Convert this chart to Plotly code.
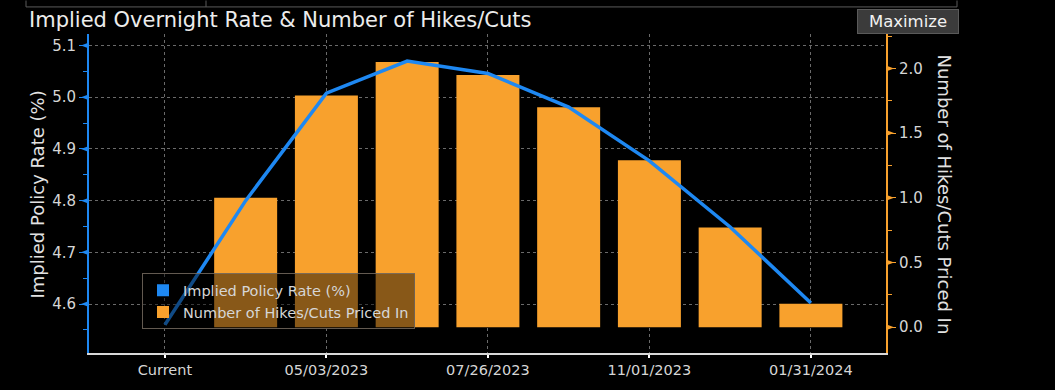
import plotly.graph_objects as go

# ---- data ----
dates = ['Current', '03/22/2023', '05/03/2023', '06/14/2023', '07/26/2023',
         '09/20/2023', '11/01/2023', '12/13/2023', '01/31/2024']
implied_rate = [4.56, 4.80, 5.008, 5.070, 5.046, 4.981, 4.877, 4.749, 4.602]
hikes_priced = [0.0, 1.0, 1.79, 2.05, 1.95, 1.70, 1.29, 0.77, 0.18]
x_tick_labels = ['Current', '05/03/2023', '07/26/2023', '11/01/2023', '01/31/2024']
rate_ticks = [4.6, 4.7, 4.8, 4.9, 5.0, 5.1]
hike_ticks = [0.0, 0.5, 1.0, 1.5, 2.0]

BLUE = '#1e88f2'
ORANGE = '#f8a12d'
TXT = '#d6d6d6'
FONT = 'DejaVu Sans'

W, H = 1055, 390
L, R, T, B = 89, 169, 34, 32
PW, PH = W - L - R, H - T - B


def px(x):
    return (x - L) / PW


def py(y):
    return (H - B - y) / PH


fig = go.Figure()

# bars on the base axis (right side)
fig.add_trace(go.Bar(
    x=dates, y=hikes_priced, yaxis='y', marker=dict(color=ORANGE, line=dict(width=0)),
    width=0.78, showlegend=False, name='Number of Hikes/Cuts Priced In'))

# line on the overlaying axis (left side)
fig.add_trace(go.Scatter(
    x=dates, y=implied_rate, yaxis='y2', mode='lines',
    line=dict(color=BLUE, width=3.5), showlegend=False,
    name='Implied Policy Rate (%)'))

# legend entries (square swatches)
fig.add_trace(go.Scatter(x=[None], y=[None], mode='markers', name='Implied Policy Rate (%)',
                         marker=dict(symbol='square', size=14, color=BLUE)))
fig.add_trace(go.Scatter(x=[None], y=[None], mode='markers', name='Number of Hikes/Cuts Priced In',
                         marker=dict(symbol='square', size=14, color=ORANGE)))

fig.update_layout(
    width=W, height=H,
    margin=dict(l=L, r=R, t=T, b=B, pad=0),
    paper_bgcolor='black', plot_bgcolor='black',
    font=dict(family=FONT, color=TXT, size=15),
    bargap=0.2,
    xaxis=dict(
        type='category', categoryorder='array', categoryarray=dates,
        range=[-0.94, 8.93],
        tickmode='array', tickvals=x_tick_labels, ticktext=x_tick_labels,
        showgrid=True, gridcolor='#6a6a6a', griddash='dot', gridwidth=1,
        showline=True, linecolor='#d8d8d8', linewidth=2,
        ticks='outside', ticklen=3, tickcolor='#ffffff', tickwidth=2,
        tickfont=dict(size=14.5, color=TXT), zeroline=False,
    ),
    yaxis=dict(
        side='right', range=[-0.2, 2.266],
        tickvals=hike_ticks, ticktext=['%.1f' % v for v in hike_ticks],
        showgrid=False, zeroline=False,
        showline=True, linecolor=ORANGE, linewidth=2,
        ticks='outside', ticklen=8, tickcolor=ORANGE, tickwidth=1,
        minor=dict(ticks='outside', ticklen=4, tickcolor=ORANGE, dtick=0.25, tick0=0, showgrid=False),
        tickfont=dict(size=15, color=TXT),
    ),
    yaxis2=dict(
        overlaying='y', side='left', anchor='x', range=[4.5053, 5.1223],
        tickvals=rate_ticks, ticktext=['%.1f' % v for v in rate_ticks],
        showgrid=True, gridcolor='#6a6a6a', griddash='dot', gridwidth=1,
        zeroline=False,
        showline=True, linecolor=BLUE, linewidth=2,
        ticks='outside', ticklen=8, tickcolor=BLUE, tickwidth=1,
        minor=dict(ticks='outside', ticklen=4, tickcolor=BLUE, dtick=0.05, tick0=4.6, showgrid=False),
        tickfont=dict(size=15, color=TXT),
    ),
    legend=dict(
        x=px(142), y=py(277), xanchor='left', yanchor='top',
        bgcolor='rgba(0,0,0,0.45)', bordercolor='rgba(110,100,90,0.9)', borderwidth=1,
        font=dict(size=14.5, color=TXT, family=FONT),
        tracegroupgap=0, itemsizing='constant',
    ),
    title=dict(text='Implied Overnight Rate & Number of Hikes/Cuts',
               xref='container', yref='container', x=29 / W, y=1 - 20 / H,
               xanchor='left', yanchor='middle',
               font=dict(size=21, color='#ececec', family=FONT)),
)

# axis titles
fig.add_annotation(text='Implied Policy Rate (%)', xref='paper', yref='paper',
                   x=px(37), y=py(197), textangle=-90, showarrow=False,
                   xanchor='center', yanchor='middle',
                   font=dict(size=18, color='#e2e2e2', family=FONT))
fig.add_annotation(text='Number of Hikes/Cuts Priced In', xref='paper', yref='paper',
                   x=px(945), y=py(197), textangle=90, showarrow=False,
                   xanchor='center', yanchor='middle',
                   font=dict(size=18, color='#e2e2e2', family=FONT))

# Maximize button
fig.add_annotation(text='Maximize', xref='paper', yref='paper',
                   x=px(907.5), y=py(21), showarrow=False, xanchor='center', yanchor='middle',
                   bgcolor='#3b3b3b', bordercolor='#5a5a5a', borderwidth=1, borderpad=2,
                   width=96, height=19,
                   font=dict(size=16.5, color='#f2f2f2', family=FONT))

# top window chrome
for x0, y0, x1, y1 in [(26, 0, 26, 6.5), (26, 6.5, 957, 6.5), (206, 0, 206, 6.5), (957, 0, 957, 6.5)]:
    fig.add_shape(type='line', xref='paper', yref='paper',
                  x0=px(x0), y0=py(y0), x1=px(x1), y1=py(y1),
                  line=dict(color='#5a5a5a', width=1))

# triangle tick markers
for v in rate_ticks:
    fig.add_shape(type='path', xref='paper', yref='y2', xsizemode='pixel', ysizemode='pixel',
                  xanchor=0, yanchor=v, path='M 0,-3 L -8,0 L 0,3 Z',
                  fillcolor=BLUE, line=dict(width=0), layer='above')
for v in hike_ticks:
    fig.add_shape(type='path', xref='paper', yref='y', xsizemode='pixel', ysizemode='pixel',
                  xanchor=1, yanchor=v, path='M 0,-3 L 8,0 L 0,3 Z',
                  fillcolor=ORANGE, line=dict(width=0), layer='above')

fig.write_html('out.html', config={'displayModeBar': False},
               post_script="document.body.style.margin='0';document.body.style.overflow='hidden';")
